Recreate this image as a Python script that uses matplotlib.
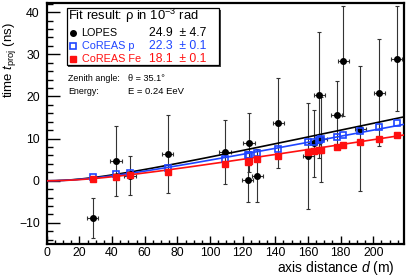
import numpy as np
import matplotlib
matplotlib.use("Agg")
import matplotlib.pyplot as plt
from matplotlib.patches import Rectangle
from matplotlib.lines import Line2D

plt.rcParams['font.family'] = ['Liberation Sans', 'DejaVu Sans']
plt.rcParams['mathtext.fontset'] = 'custom'
plt.rcParams['mathtext.rm'] = 'Liberation Sans'
plt.rcParams['mathtext.it'] = 'Liberation Sans:italic'

# ---------------- data ----------------
lopes_d = [28.2, 42.4, 51.0, 74.1, 109.2, 123.1, 123.9, 129.0, 141.8, 160.2,
           163.7, 166.9, 168.2, 177.5, 181.6, 192.1, 203.7, 214.3]
lopes_t = [-8.8, 4.7, 1.2, 6.3, 6.9, 0.1, 9.0, 1.2, 13.7, 5.8,
           8.9, 20.3, 9.8, 15.7, 28.4, 12.4, 20.9, 29.0]
lopes_terr = [4.7, 8.4, 4.6, 9.2, 7.6, 5.2, 7.0, 6.3, 10.6, 12.6,
              7.9, 15.0, 10.1, 7.9, 13.1, 14.9, 12.7, 12.5]
lopes_derr = [3.5] * len(lopes_d)

coreas_p = [0.9, 1.6, 1.8, 3.1, 5.2, 6.1, 6.2, 6.6, 7.5, 9.1,
            9.3, 9.7, 9.8, 10.5, 10.8, 11.7, 12.7, 13.8]
coreas_fe = [0.5, 1.0, 1.3, 2.2, 3.9, 4.5, 4.6, 5.1, 5.9, 6.9,
             7.1, 7.3, 7.4, 8.1, 8.4, 9.1, 10.0, 10.8]

series_names = ['LOPES', 'CoREAS p', 'CoREAS Fe']
rho_vals = [24.9, 22.3, 18.1]      # 10^-3 rad
rho_errs = [4.7, 0.1, 0.1]
fit_b = [3.3, 3.2, 2.6]            # ns, hyperbola offset
zenith = 35.1
energy = 0.24

x_ticks = [0, 20, 40, 60, 80, 100, 120, 140, 160, 180, 200]
y_ticks = [-10, 0, 10, 20, 30, 40]

# ---------------- styling ----------------
W, H = 407, 279
black = '#000000'
blue = '#1f45ff'
red = '#ff1010'
colors = [black, blue, red]

fig = plt.figure(figsize=(W / 100, H / 100), dpi=100)
def fx(px): return px / W
def fy(py): return 1 - py / H

ax = fig.add_axes([fx(46.7), fy(244), fx(404) - fx(46.7), fy(2.5) - fy(244)])
ax.set_xlim(0, 218.8)
ax.set_ylim(-15, 42.3)

# error bars
ax.errorbar(lopes_d, lopes_t, yerr=lopes_terr, xerr=lopes_derr, fmt='none',
            ecolor='#333333', elinewidth=0.8, capsize=1.3, capthick=0.8, zorder=2)

# fit curves
c = 0.299792458
dd = np.linspace(0, 218.8, 300)
for rho, b, col in zip(rho_vals, fit_b, colors):
    a = rho * 1e-3 / c
    ax.plot(dd, np.sqrt((a * dd) ** 2 + b ** 2) - b, color=col, lw=1.2, zorder=3)

ax.plot(lopes_d, lopes_t, 'o', color=black, ms=4.0, zorder=4)
ax.plot(lopes_d, coreas_p, 's', mfc='none', mec=blue, mew=1.2, ms=4.5, zorder=5)
ax.plot(lopes_d, coreas_fe, 's', color=red, ms=4.0, zorder=5)

# axes style
for s in ax.spines.values():
    s.set_linewidth(1.6)
ax.set_xticks(x_ticks)
ax.set_yticks(y_ticks)
ax.set_xticks(np.arange(0, 219, 5), minor=True)
ax.set_yticks(np.arange(-14, 43, 2), minor=True)
ax.tick_params(which='both', direction='in', top=False, right=False, width=1.0)
ax.tick_params(axis='y', which='major', length=9, pad=5, labelsize=8.8)
ax.tick_params(axis='y', which='minor', length=4.5)
ax.tick_params(axis='x', which='major', length=6, pad=2.5, labelsize=8.8)
ax.tick_params(axis='x', which='minor', length=3)

# axis titles
fig.text(fx(9.5), fy(21.7), r'time $t_{\mathrm{proj}}$ (ns)', rotation=90,
         ha='center', va='top', fontsize=9.5)
fig.text(fx(395), fy(277), r'axis distance $d$ (m)', ha='right', va='bottom',
         fontsize=10)

# legend box with shadow
bx0, bx1, by0, by1 = 66.7, 219, 8.3, 65
fig.patches.append(Rectangle((fx(bx0 + 1.5), fy(by1 + 1.5)), fx(bx1) - fx(bx0),
                             fy(by0) - fy(by1), transform=fig.transFigure,
                             facecolor='#444444', edgecolor='none', zorder=9))
fig.patches.append(Rectangle((fx(bx0), fy(by1)), fx(bx1) - fx(bx0),
                             fy(by0) - fy(by1), transform=fig.transFigure,
                             facecolor='white', edgecolor='black', lw=0.9, zorder=10))
fig.text(fx(68.5), fy(15.5), r'Fit result: ρ in 10$^{-3}$ rad', ha='left',
         va='center', fontsize=9.4, zorder=11)
row_y = [32.7, 45.7, 59.0]
markers = [dict(marker='o', color=black, ms=4.0),
           dict(marker='s', mfc='none', mec=blue, mew=1.2, ms=4.5),
           dict(marker='s', color=red, ms=4.0)]
for name, rv, re, col, ry, mk in zip(series_names, rho_vals, rho_errs, colors, row_y, markers):
    fig.add_artist(Line2D([fx(72.7)], [fy(ry)], linestyle='none',
                          transform=fig.transFigure, zorder=11, **mk))
    fig.text(fx(81.5), fy(ry), name, ha='left', va='center', fontsize=7.8,
             color=col, zorder=11)
    fig.text(fx(149), fy(ry), f'{rv:.1f}  ± {re:.1f}', ha='left', va='center',
             fontsize=8.8, color=col, zorder=11)

fig.text(fx(68.5), fy(78.5), 'Zenith angle:', ha='left', va='center', fontsize=6.4)
fig.text(fx(128.3), fy(78.5), f'θ = {zenith:.1f}°', ha='left', va='center', fontsize=6.6)
fig.text(fx(68.5), fy(91), 'Energy:', ha='left', va='center', fontsize=6.4)
fig.text(fx(128.3), fy(91), f'E = {energy:.2f} EeV', ha='left', va='center', fontsize=6.8)

fig.savefig('out.png', dpi=100)
